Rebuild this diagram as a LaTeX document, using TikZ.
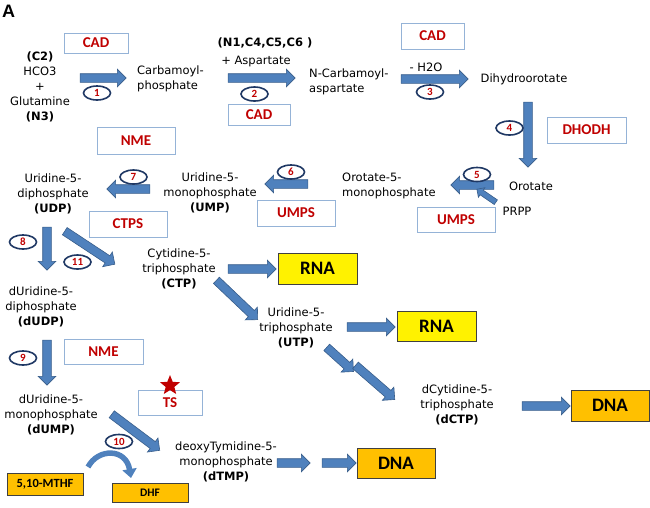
\documentclass[tikz,border=0pt]{standalone}
\usepackage{fontspec}
\setmainfont{DejaVu Sans}
\newfontfamily\boxfont{Carlito}
\newfontfamily\labfont{Liberation Sans}
\usetikzlibrary{shapes.arrows,shapes.geometric,arrows.meta}
\definecolor{arrfill}{HTML}{4F81BD}
\definecolor{arredge}{HTML}{385D8A}
\definecolor{enzedge}{HTML}{95B3D7}
\definecolor{enzred}{HTML}{C00000}
\definecolor{numedge}{HTML}{1F3864}
\definecolor{dnaorange}{HTML}{FFC000}
\definecolor{boxedge}{HTML}{404040}
\tikzset{
  txt/.style={font=\fontsize{11.5}{15}\selectfont, align=center, inner sep=0pt},
  enz/.style={draw=enzedge, line width=1pt, fill=white, inner sep=0pt,
    font=\boxfont\bfseries\fontsize{15}{16}\selectfont, text=enzred},
  numell/.style={ellipse, draw=numedge, line width=1.6pt, fill=white,
    minimum width=27pt, minimum height=14pt, inner sep=0pt,
    font=\boxfont\bfseries\fontsize{11}{11}\selectfont, text=enzred},
  barrow/.style={single arrow, draw=arredge, fill=arrfill, line width=0.6pt,
    inner xsep=0pt, inner ysep=4pt, single arrow head extend=4.5pt,
    single arrow head indent=0pt, minimum height=#1},
  rnabox/.style={draw=boxedge, line width=1pt, fill=yellow, inner sep=0pt,
    font=\boxfont\bfseries\fontsize{19}{20}\selectfont},
  dnabox/.style={draw=boxedge, line width=1pt, fill=dnaorange, inner sep=0pt,
    font=\boxfont\bfseries\fontsize{19}{20}\selectfont},
}
\begin{document}
\begin{tikzpicture}[x=1pt,y=-1pt]
\useasboundingbox (0,0) rectangle (650,507);

% panel label
\node[font=\labfont\bfseries\fontsize{18}{18}\selectfont, inner sep=0pt] (lblA) at (8.5,11) {A};

% enzyme boxes
\node[enz, minimum width=64pt, minimum height=20pt] (cad1) at (96,43) {CAD};
\node[enz, minimum width=62pt, minimum height=21pt] (cad2) at (259,115) {CAD};
\node[enz, minimum width=63pt, minimum height=26pt] (cad3) at (432.5,36) {CAD};
\node[enz, minimum width=79pt, minimum height=26pt] (dhodh) at (586.5,130) {DHODH};
\node[enz, minimum width=78pt, minimum height=25pt] (umps1) at (456,219.5) {UMPS};
\node[enz, minimum width=78pt, minimum height=26pt] (umps2) at (296,213) {UMPS};
\node[enz, minimum width=78pt, minimum height=27pt] (nme1) at (136,140.5) {NME};
\node[enz, minimum width=78pt, minimum height=26pt] (ctps) at (128,224) {CTPS};
\node[enz, minimum width=79pt, minimum height=25pt] (nme2) at (103.5,351.5) {NME};
\node[enz, minimum width=64pt, minimum height=25pt] (ts) at (170,402.5) {TS};
\node[star, star points=5, star point ratio=2.3, fill=enzred, inner sep=0pt, minimum size=21pt] (star) at (170,385.5) {};

% product boxes
\node[rnabox, minimum width=79pt, minimum height=31pt] (rna1) at (317.5,268.5) {RNA};
\node[rnabox, minimum width=79pt, minimum height=30pt] (rna2) at (436.5,326) {RNA};
\node[dnabox, minimum width=78pt, minimum height=31pt] (dna1) at (610,405.5) {DNA};
\node[dnabox, minimum width=78pt, minimum height=30pt] (dna2) at (396,463) {DNA};
\node[dnabox, minimum width=76pt, minimum height=22pt, font=\boxfont\bfseries\fontsize{12.5}{13}\selectfont] (mthf) at (45,484) {5,10-MTHF};
\node[dnabox, minimum width=76pt, minimum height=19pt, font=\boxfont\bfseries\fontsize{11.5}{12}\selectfont] (dhf) at (150,492.5) {DHF};

% metabolites
\node[txt] (hco3) at (40,87) {\textbf{(C2)}\\HCO3\\+\\Glutamine\\\textbf{(N3)}};
\node[txt, align=left, anchor=west] (carb) at (137,79) {Carbamoyl-\\phosphate};
\node[txt, font=\bfseries\fontsize{11.5}{15}\selectfont] (nc) at (265,43) {(N1,C4,C5,C6 )};
\node[txt] (asp) at (256,61) {+ Aspartate};
\node[txt, align=left, anchor=west] (ncarb) at (309,82) {N-Carbamoyl-\\aspartate};
\node[txt] (h2o) at (426,67) {- H2O};
\node[txt] (dihydro) at (524,79) {Dihydroorotate};
\node[txt] (orotate) at (531,186) {Orotate};
\node[txt] (prpp) at (517,211) {PRPP};
\node[txt, align=left, anchor=west] (omp) at (342,186) {Orotate-5-\\monophosphate};
\node[txt] (ump) at (210,193) {Uridine-5-\\monophosphate\\\textbf{(UMP)}};
\node[txt] (udp) at (53,194) {Uridine-5-\\diphosphate\\\textbf{(UDP)}};
\node[txt] (ctp) at (179,269) {Cytidine-5-\\triphosphate\\\textbf{(CTP)}};
\node[txt] (utp) at (296,328) {Uridine-5-\\triphosphate\\\textbf{(UTP)}};
\node[txt] (dctp) at (457,405) {dCytidine-5-\\triphosphate\\\textbf{(dCTP)}};
\node[txt] (dudp) at (41,307) {dUridine-5-\\diphosphate\\\textbf{(dUDP)}};
\node[txt] (dump) at (51,415) {dUridine-5-\\monophosphate\\\textbf{(dUMP)}};
\node[txt] (dtmp) at (226,462) {deoxyTymidine-5-\\monophosphate\\\textbf{(dTMP)}};

% block arrows
\node[barrow=46pt] (a1) at (101,78) {};
\node[barrow=67pt] (a2) at (259.5,78) {};
\node[barrow=67pt] (a3) at (432.5,79) {};
\node[barrow=65pt, rotate=-90] (a4) at (528,132.5) {};
\node[barrow=43pt, rotate=180] (a5) at (474.5,185) {};
\node[barrow=23pt, rotate=145.6, inner ysep=2.5pt, single arrow head extend=3pt] (a5b) at (487.5,196.5) {};
\node[barrow=43pt, rotate=180] (a6) at (288.5,184) {};
\node[barrow=43pt, rotate=180] (a7) at (130.5,189) {};
\node[barrow=43pt, rotate=-90] (a8) at (47,246.5) {};
\node[barrow=60pt, rotate=-33.4] (a11) at (88,246.5) {};
\node[barrow=48pt] (actp) at (250,269) {};
\node[barrow=57pt, rotate=-43.6] (actputp) at (235.5,298.5) {};
\node[barrow=48pt] (autp) at (369,327) {};
\node[barrow=36pt, rotate=-42] (autpd1) at (338.5,358) {};
\node[barrow=52pt, rotate=-41] (autpd2) at (373.5,381) {};
\node[barrow=48pt] (adctp) at (544,406) {};
\node[barrow=45pt, rotate=-90] (a9) at (47,360.5) {};
\node[barrow=60pt, rotate=-36.9] (a10) at (134,431) {};
\node[barrow=33pt] (adtmp1) at (291.5,463) {};
\node[barrow=34pt] (adtmp2) at (337,463) {};

% curved arrow 5,10-MTHF -> DHF
\coordinate (cv1) at (88,467);
\coordinate (cv2) at (131,478);
\draw[arrfill, line width=5.5pt, -{Triangle[width=14pt,length=9pt]}]
  (cv1) .. controls (98,448) and (126,448) .. (cv2);

% step numbers
\node[numell] (n1) at (97,93) {1};
\node[numell] (n2) at (254.5,94) {2};
\node[numell] (n3) at (430,92) {3};
\node[numell] (n4) at (509.5,128) {4};
\node[numell] (n5) at (477,174.5) {5};
\node[numell] (n6) at (291,172) {6};
\node[numell] (n7) at (133.5,177) {7};
\node[numell] (n8) at (23,242) {8};
\node[numell] (n11) at (77.5,262) {11};
\node[numell] (n9) at (23,358) {9};
\node[numell] (n10) at (119,441.5) {10};
\end{tikzpicture}
\end{document}
